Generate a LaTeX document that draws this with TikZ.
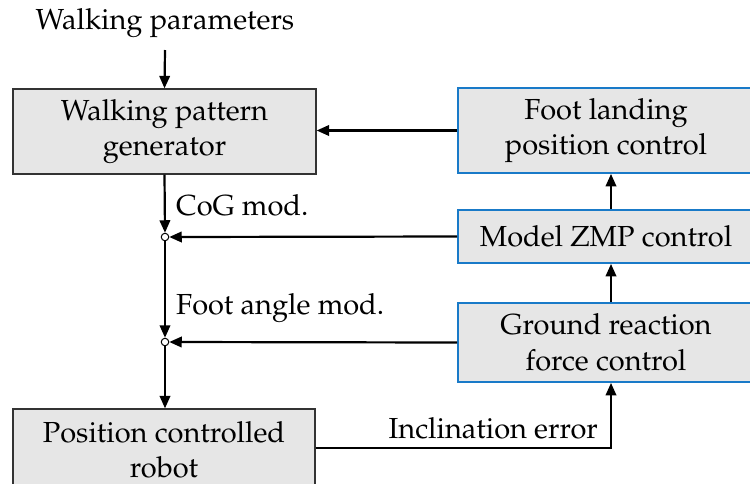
\documentclass[tikz,border=0pt]{standalone}
\usepackage[T1]{fontenc}
\usepackage{mathpazo}
\usetikzlibrary{arrows.meta}
\definecolor{boxfill}{RGB}{230,230,230}
\definecolor{ctrlblue}{RGB}{25,122,200}
\tikzset{
  blk/.style={draw=black!80, line width=1.3pt, fill=boxfill, align=center, inner sep=0pt},
  ctrl/.style={draw=ctrlblue, line width=1.8pt, fill=boxfill, align=center, inner sep=0pt},
  flow/.style={line width=2.2pt, -{Triangle[length=12.5pt,width=10.5pt]}},
  junc/.style={circle, draw=black, line width=1pt, fill=white, minimum size=7.5pt, inner sep=0pt},
  lbl/.style={inner sep=0pt}
}
\begin{document}
\begin{tikzpicture}[x=1pt,y=-1pt,font=\fontsize{29}{35.5}\selectfont]
\useasboundingbox (0,0) rectangle (750,483);
\begin{scope}
\clip (0,0) rectangle (750,483);
% blocks
\node[blk, minimum width=303pt, minimum height=85pt] (wpg) at (164.5,131.5) {Walking pattern\\generator};
\node[blk, minimum width=302pt, minimum height=82pt] (robot) at (164,450) {Position controlled\\robot};
\node[ctrl, minimum width=296pt, minimum height=85pt] (flp) at (606,130.5) {Foot landing\\position control};
\node[ctrl, minimum width=296pt, minimum height=53pt] (zmp) at (606,236.5) {Model ZMP control};
\node[ctrl, minimum width=296pt, minimum height=79pt] (grf) at (606,342.5) {Ground reaction\\force control};
% input
\node[lbl] (param) at (165,23) {Walking parameters};
\coordinate (paramend) at (165,50);
% summing points
\node[junc] (j1) at (165,237) {};
\node[junc] (j2) at (165,342) {};
% connectors
\draw[flow] (paramend) -- (wpg.north);
\draw[flow] (wpg.south) -- (j1.north);
\draw[flow] (j1.south) -- (j2.north);
\draw[flow] (j2.south) -- (robot.north -| j2);
\draw[flow] (flp.west) -- (wpg.east |- flp.west);
\draw[flow] (zmp.west) -- (j1.east);
\draw[flow] (grf.west) -- (j2.east);
\draw[flow] (grf.north -| 611,0) -- (zmp.south -| 611,0);
\draw[flow] (zmp.north -| 611,0) -- (flp.south -| 611,0);
\coordinate (bend) at (611,448);
\draw[flow] (robot.east |- bend) -- (bend) -- (grf.south -| bend);
% signal labels
\node[lbl, anchor=west] at (176,205) {CoG mod.};
\node[lbl, anchor=west] at (176,308) {Foot angle mod.};
\node[lbl, anchor=east] at (598,428) {Inclination error};
\end{scope}
\end{tikzpicture}
\end{document}
